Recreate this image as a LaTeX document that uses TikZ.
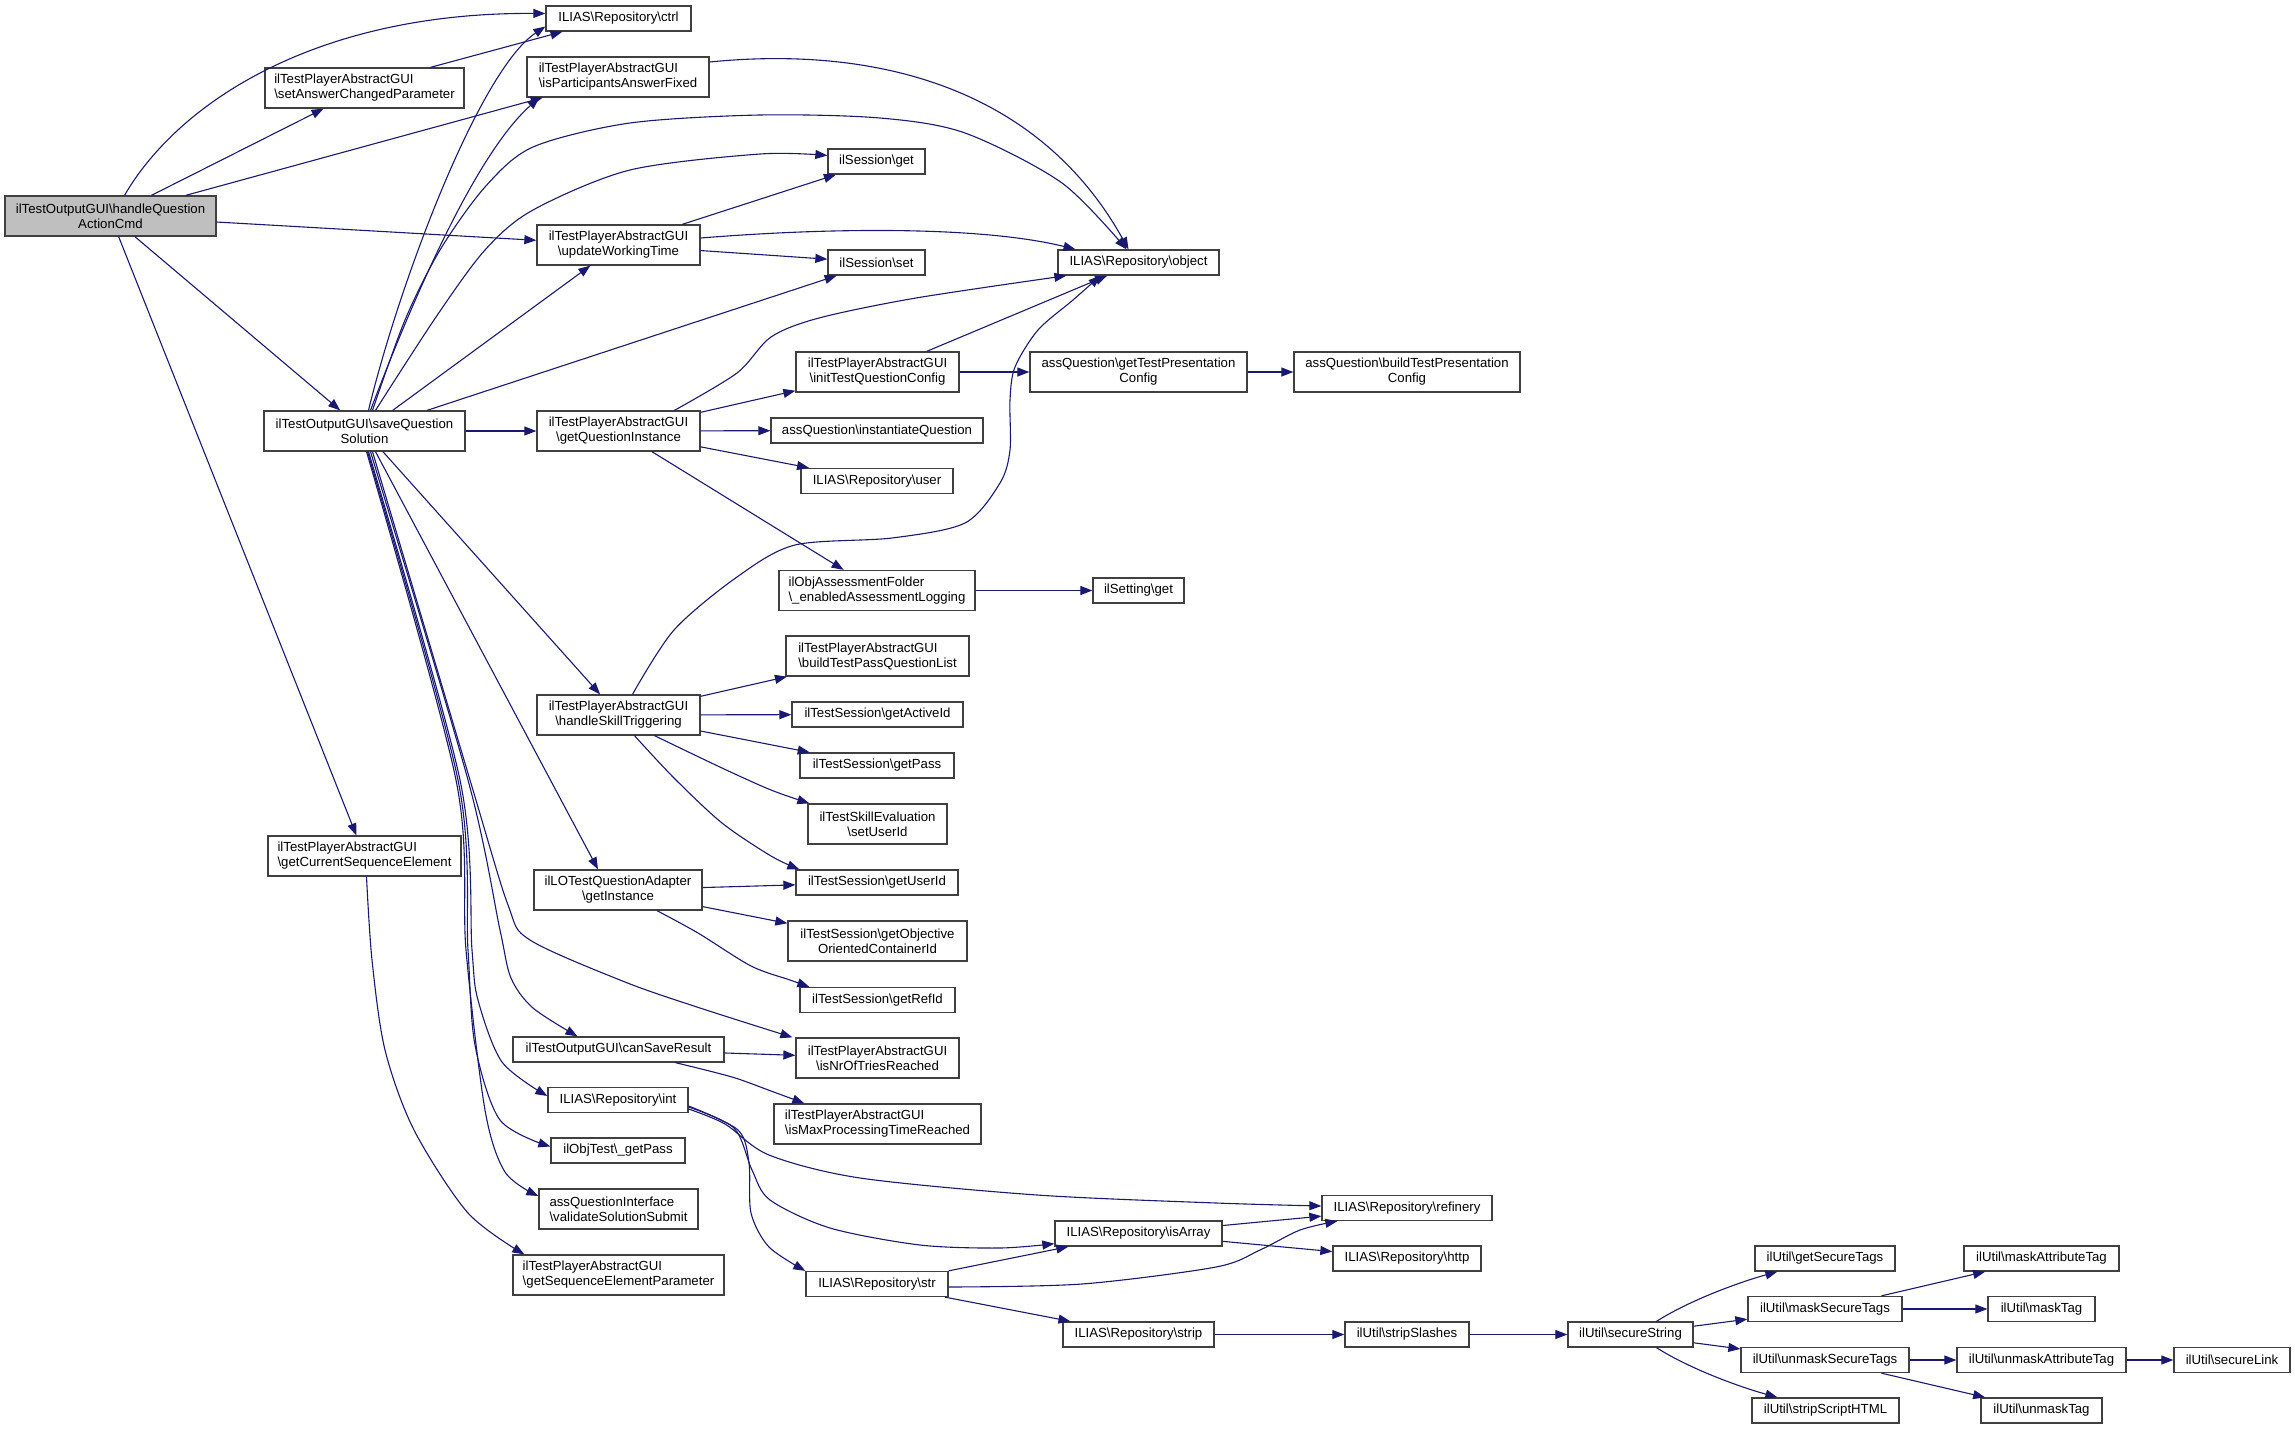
\documentclass[tikz,border=0pt]{standalone}
\usepackage{fontspec}
\setmainfont{Liberation Sans}
\usetikzlibrary{arrows.meta,calc}
\definecolor{edgeblue}{HTML}{191970}
\definecolor{boxline}{HTML}{404040}
\definecolor{rootfill}{HTML}{BFBFBF}
\newcommand{\myBS}{\textbackslash}
\newcommand{\mkbox}[7]{\node[#1, minimum width=#5pt, minimum height=#6pt] (#2) at (#3,#4) {#7};}
\begin{document}
\begin{tikzpicture}[x=1pt,y=-1pt,
  box/.style={draw=boxline, line width=1.3pt, fill=white, inner sep=0pt, font=\fontsize{13.2}{15}\selectfont, text=black},
  lbox/.style={box, align=left},
  cbox/.style={box, align=center},
  rbox/.style={box, align=center, fill=rootfill},
  edge/.style={draw=edgeblue, line width=1.1pt, -{Triangle[length=12pt,width=9pt]}},
  sm/.style={smooth, tension=0.5}
]
\fill[white] (0,0) rectangle (2295,1429);
\useasboundingbox (0,0) rectangle (2295,1429);

\mkbox{rbox}{H}{110.5}{216}{211}{40}{ilTestOutputGUI\myBS handleQuestion\\ActionCmd}
\mkbox{cbox}{ctrl}{618.5}{18.5}{145}{25}{ILIAS\myBS Repository\myBS ctrl}
\mkbox{lbox}{setAns}{364.5}{88}{199}{40}{ilTestPlayerAbstractGUI\\\myBS setAnswerChangedParameter}
\mkbox{lbox}{isPAF}{618}{77}{182}{40}{ilTestPlayerAbstractGUI\\\myBS isParticipantsAnswerFixed}
\mkbox{cbox}{uWT}{618.5}{245}{163}{40}{ilTestPlayerAbstractGUI\\\myBS updateWorkingTime}
\mkbox{cbox}{S}{364.5}{431}{201}{40}{ilTestOutputGUI\myBS saveQuestion\\Solution}
\mkbox{cbox}{GQI}{618.5}{431}{163}{40}{ilTestPlayerAbstractGUI\\\myBS getQuestionInstance}
\mkbox{cbox}{sget}{876.5}{161.5}{97}{25}{ilSession\myBS get}
\mkbox{cbox}{sset}{876.5}{262.5}{97}{25}{ilSession\myBS set}
\mkbox{cbox}{obj}{1138.5}{262.5}{161}{25}{ILIAS\myBS Repository\myBS object}
\mkbox{cbox}{initTQC}{877.5}{372}{163}{40}{ilTestPlayerAbstractGUI\\\myBS initTestQuestionConfig}
\mkbox{cbox}{getTPC}{1138.5}{372}{217}{40}{assQuestion\myBS getTestPresentation\\Config}
\mkbox{cbox}{buildTPC}{1407}{372}{226}{40}{assQuestion\myBS buildTestPresentation\\Config}
\mkbox{cbox}{instQ}{877}{430.5}{212}{25}{assQuestion\myBS instantiateQuestion}
\mkbox{cbox}{user}{877}{481}{152}{25}{ILIAS\myBS Repository\myBS user}
\mkbox{lbox}{enAL}{877}{590.5}{196}{40}{ilObjAssessmentFolder\\\myBS\_enabledAssessmentLogging}
\mkbox{cbox}{setget}{1138.5}{590.5}{91}{25}{ilSetting\myBS get}
\mkbox{lbox}{bTPQL}{877.5}{656}{183}{40}{ilTestPlayerAbstractGUI\\\myBS buildTestPassQuestionList}
\mkbox{cbox}{HST}{618.5}{715}{163}{40}{ilTestPlayerAbstractGUI\\\myBS handleSkillTriggering}
\mkbox{cbox}{getAct}{877.5}{714.5}{171}{25}{ilTestSession\myBS getActiveId}
\mkbox{cbox}{getPass}{877}{765.5}{154}{25}{ilTestSession\myBS getPass}
\mkbox{cbox}{setUserId}{877.5}{824}{139}{40}{ilTestSkillEvaluation\\\myBS setUserId}
\mkbox{cbox}{getUserId}{877}{882.5}{162}{25}{ilTestSession\myBS getUserId}
\mkbox{cbox}{LO}{618}{890}{168}{40}{ilLOTestQuestionAdapter\\\myBS getInstance}
\mkbox{cbox}{getOOC}{877.5}{941}{179}{40}{ilTestSession\myBS getObjective\\OrientedContainerId}
\mkbox{cbox}{getRefId}{877.5}{1000}{155}{25}{ilTestSession\myBS getRefId}
\mkbox{cbox}{canSave}{618.5}{1049.5}{211}{25}{ilTestOutputGUI\myBS canSaveResult}
\mkbox{cbox}{isNrOT}{877.5}{1058}{163}{40}{ilTestPlayerAbstractGUI\\\myBS isNrOfTriesReached}
\mkbox{cbox}{int}{618}{1100}{140}{25}{ILIAS\myBS Repository\myBS int}
\mkbox{lbox}{isMaxPT}{877.5}{1124}{207}{40}{ilTestPlayerAbstractGUI\\\myBS isMaxProcessingTimeReached}
\mkbox{cbox}{getPassO}{618}{1150.5}{134}{25}{ilObjTest\myBS\_getPass}
\mkbox{lbox}{validSS}{618.5}{1209}{159}{40}{assQuestionInterface\\\myBS validateSolutionSubmit}
\mkbox{lbox}{getCSE}{364.5}{856}{193}{40}{ilTestPlayerAbstractGUI\\\myBS getCurrentSequenceElement}
\mkbox{lbox}{getSEP}{618.5}{1275}{211}{40}{ilTestPlayerAbstractGUI\\\myBS getSequenceElementParameter}
\mkbox{cbox}{refinery}{1407}{1208}{170}{25}{ILIAS\myBS Repository\myBS refinery}
\mkbox{cbox}{isArray}{1138.5}{1233.5}{167}{25}{ILIAS\myBS Repository\myBS isArray}
\mkbox{cbox}{http}{1407}{1258.5}{148}{25}{ILIAS\myBS Repository\myBS http}
\mkbox{cbox}{str}{877}{1284}{142}{25}{ILIAS\myBS Repository\myBS str}
\mkbox{cbox}{strip}{1138.5}{1334.5}{151}{25}{ILIAS\myBS Repository\myBS strip}
\mkbox{cbox}{stripSl}{1407}{1334.5}{124}{25}{ilUtil\myBS stripSlashes}
\mkbox{cbox}{secStr}{1630.5}{1334.5}{125}{25}{ilUtil\myBS secureString}
\mkbox{cbox}{getST}{1825}{1258.5}{140}{25}{ilUtil\myBS getSecureTags}
\mkbox{cbox}{maskST}{1825}{1309}{154}{25}{ilUtil\myBS maskSecureTags}
\mkbox{cbox}{unmaskST}{1825}{1360}{168}{25}{ilUtil\myBS unmaskSecureTags}
\mkbox{cbox}{stripSH}{1825.5}{1410.5}{147}{25}{ilUtil\myBS stripScriptHTML}
\mkbox{cbox}{maskAT}{2041.5}{1258.5}{155}{25}{ilUtil\myBS maskAttributeTag}
\mkbox{cbox}{maskTag}{2041.5}{1309}{107}{25}{ilUtil\myBS maskTag}
\mkbox{cbox}{unmaskAT}{2041.5}{1360}{169}{25}{ilUtil\myBS unmaskAttributeTag}
\mkbox{cbox}{unmaskTag}{2041.5}{1410.5}{121}{25}{ilUtil\myBS unmaskTag}
\mkbox{cbox}{secLink}{2232}{1360}{116}{25}{ilUtil\myBS secureLink}

% handleQuestionActionCmd
\draw[edge] ([xshift=14pt]H.north) .. controls (180,100) and (320,12) .. ([yshift=5pt]ctrl.west);
\draw[edge] (H) -- (setAns);
\draw[edge] (H) -- (isPAF);
\draw[edge] (H) -- (uWT);
\draw[edge] (H) -- (S);
\draw[edge] (H) -- (getCSE);
\draw[edge] ([xshift=66pt]setAns.north) -- ([xshift=-56pt]ctrl.south);
\draw[edge] ([yshift=15pt]isPAF.east) .. controls (880,45) and (1040,90) .. ([xshift=-10pt]obj.north);
% updateWorkingTime
\draw[edge] (uWT) -- (sget);
\draw[edge] ([yshift=7pt]uWT.east) .. controls (850,226) and (990,228) .. ([xshift=-63pt]obj.north);
\draw[edge] (uWT) -- (sset);
% saveQuestionSolution
\draw[edge] ([xshift=4pt]S.north) .. controls (400,280) and (480,70) .. ([yshift=-8pt]ctrl.west);
\draw[edge] ([xshift=6pt]S.north) .. controls (420,280) and (480,150) .. ([xshift=13pt]isPAF.south west);
\draw[edge] plot[sm] coordinates {([xshift=8pt]S.north) (405,320) (440,250) (485,187) (533,147) (630,123) (760,115) (880,118) (965,133) (1062,183) ([xshift=-12pt]obj.north)};
\draw[edge] plot[sm] coordinates {([xshift=11pt]S.north) (436,317) (485,250) (533,210) (630,170) (760,154) ([yshift=6pt]sget.west)};
\draw[edge] (S) -- (uWT);
\draw[edge] (S) -- (sset);
\draw[edge] (S) -- (GQI);
\draw[edge] (S) -- (HST);
\draw[edge] ([xshift=11pt]S.south) -- ([xshift=-20pt]LO.north);
\draw[edge] plot[sm] coordinates {([xshift=8pt]S.south) (470,780) (508,905) (530,940) (625,982) (700,1008) ([xshift=-3pt]isNrOT.north west)};
\draw[edge] plot[sm] coordinates {([xshift=6pt]S.south) (468,780) (500,930) (511,978) (533,1008) ([xshift=-41pt]canSave.north)};
\draw[edge] plot[sm] coordinates {([xshift=4pt]S.south) (460,780) (472,950) (478,1000) (502,1062) ([yshift=4pt]int.west)};
\draw[edge] plot[sm] coordinates {([xshift=3pt]S.south) (458,780) (468,950) (475,1045) (500,1120) ([yshift=4pt]getPassO.west)};
\draw[edge] plot[sm] coordinates {([xshift=2pt]S.south) (456,780) (466,950) (485,1110) (505,1172) ([yshift=13pt]validSS.west)};
% getCurrentSequenceElement
\draw[edge] plot[sm] coordinates {([xshift=2pt]getCSE.south) (372,960) (385,1050) (414,1130) (468,1213) ([xshift=12pt]getSEP.north west)};
% getQuestionInstance
\draw[edge] plot[sm] coordinates {([xshift=56pt]GQI.north) (737,373) (771,337) (819,318) (916,298) ([xshift=9pt]obj.south west)};
\draw[edge] (GQI) -- (initTQC);
\draw[edge] (GQI) -- (instQ);
\draw[edge] (GQI) -- (user);
\draw[edge] (GQI) -- (enAL);
\draw[edge] (initTQC) -- (obj);
\draw[edge] (initTQC) -- (getTPC);
\draw[edge] (getTPC) -- (buildTPC);
\draw[edge] (enAL) -- (setget);
% handleSkillTriggering
\draw[edge] plot[sm] coordinates {([xshift=14pt]HST.north) (674,630) (737,577) (795,545) (892,538) (965,523) (1000,483) (1010,450) (1010,400) (1015,367) (1038,330) (1073,300) ([xshift=-38pt]obj.south)};
\draw[edge] (HST) -- (bTPQL);
\draw[edge] (HST) -- (getAct);
\draw[edge] (HST) -- (getPass);
\draw[edge] plot[sm] coordinates {([xshift=36pt]HST.south) (722,768) (771,790) ([xshift=2pt]setUserId.north west)};
\draw[edge] plot[sm] coordinates {([xshift=16pt]HST.south) (674,778) (722,823) (771,856) ([xshift=4pt]getUserId.north west)};
% ilLOTestQuestionAdapter
\draw[edge] (LO) -- (getUserId);
\draw[edge] (LO) -- (getOOC);
\draw[edge] plot[sm] coordinates {([xshift=39pt]LO.south) (698,933) (751,966) (790,980) ([xshift=10pt]getRefId.north west)};
% canSaveResult
\draw[edge] (canSave) -- (isNrOT);
\draw[edge] plot[sm] coordinates {([xshift=57pt]canSave.south) (732,1077) (771,1091) ([xshift=31pt]isMaxPT.north west)};
% int
\draw[edge] plot[sm] coordinates {([yshift=-9pt]int.east) (725,1124) (769,1155) (860,1178) (1037,1195) (1216,1203) ([yshift=2pt]refinery.west)};
\draw[edge] plot[sm] coordinates {([yshift=-7pt]int.east) (734,1128) (752,1170) (770,1200) (830,1228) (920,1245) (1000,1248) ([yshift=3pt]isArray.south west)};
\draw[edge] plot[sm] coordinates {([yshift=-6pt]int.east) (738,1130) (749,1163) (751,1213) (769,1247) (str.north west)};
% str
\draw[edge] (str.north east) -- ([xshift=14pt]isArray.south west);
\draw[edge] plot[sm] coordinates {([yshift=-3pt]str.east) (1082,1284) (1216,1267) (1260,1250) (1300,1230) ([xshift=16pt]refinery.south west)};
\draw[edge] (str) -- (strip);
\draw[edge] (isArray) -- (refinery);
\draw[edge] (isArray) -- (http);
\draw[edge] (strip) -- (stripSl);
\draw[edge] (stripSl) -- (secStr);
% secureString
\draw[edge] ([xshift=26pt]secStr.north) .. controls (1690,1300) and (1740,1282) .. ([xshift=23pt]getST.south west);
\draw[edge] (secStr) -- (maskST);
\draw[edge] (secStr) -- (unmaskST);
\draw[edge] ([xshift=26pt]secStr.south) .. controls (1690,1369) and (1740,1387) .. ([xshift=26pt]stripSH.north west);
\draw[edge] (maskST) -- (maskAT);
\draw[edge] (maskST) -- (maskTag);
\draw[edge] (unmaskST) -- (unmaskAT);
\draw[edge] (unmaskST) -- (unmaskTag);
\draw[edge] (unmaskAT) -- (secLink);
\end{tikzpicture}
\end{document}
